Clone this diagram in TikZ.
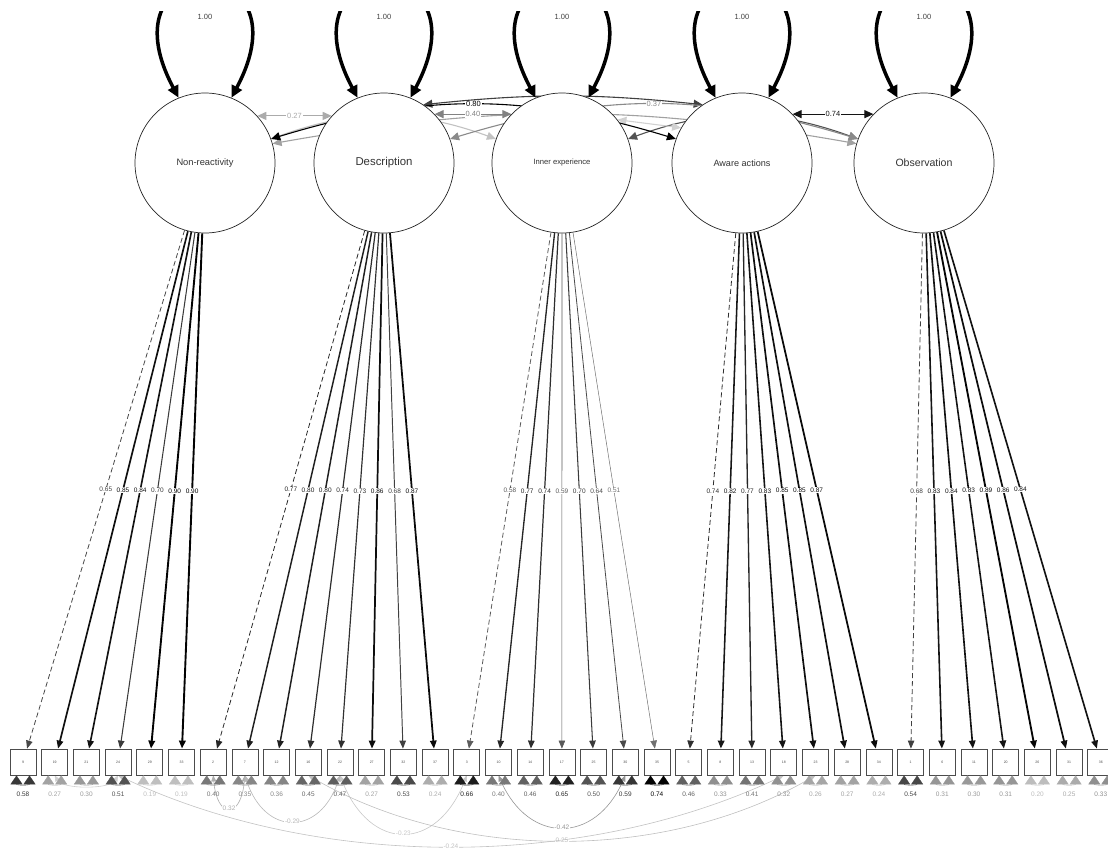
\documentclass[tikz,border=0pt]{standalone}
\usepackage{fontspec}
\setmainfont{Liberation Sans}
\usepackage{graphicx}
\usetikzlibrary{arrows.meta,backgrounds}

\tikzset{
	latent/.style={circle,draw=black!85,line width=.7pt,fill=white,minimum size=140pt,inner sep=0pt,text=black!80},
	manifest/.style={rectangle,draw=black!70,line width=.8pt,fill=white,minimum width=26pt,minimum height=26pt,inner sep=0pt,text=black!70,font=\fontsize{3.5}{4}\selectfont},
	greyed/.code={\pgfmathtruncatemacro\semshade{min(100,abs(#1))}\edef\semset{\noexpand\tikzset{draw=black!\semshade}}\semset},
	greytext/.code={\pgfmathtruncatemacro\semshade{min(100,abs(#1))}\edef\semset{\noexpand\tikzset{text=black!\semshade}}\semset},
	wide by/.code={\pgfmathsetmacro\semwidth{max(.5,(#1-.45)*4.2)}\edef\semset{\noexpand\tikzset{line width=\semwidth pt}}\semset},
	load/.style={wide by=#1,greyed=#1*111,-{Triangle[length=8pt,width=6.5pt]}},
	fixed/.style={line width=.8pt,dash pattern=on 5pt off 3pt},
	ldlbl/.style={fill=white,inner sep=.6pt,font=\fontsize{6.5}{7}\selectfont,greytext=#1*111},
	varloop/.style={line width=3.5pt,draw=black,{Triangle[length=12pt,width=11pt]}-{Triangle[length=12pt,width=11pt]}},
	cov/.style={line width=1.1pt,greyed=#1*125,{Triangle[length=9pt,width=8pt]}-{Triangle[length=9pt,width=8pt]}},
	cvlbl/.style={fill=white,inner sep=.8pt,font=\fontsize{7.5}{8}\selectfont,greytext=#1*125},
	resid/.style={line width=.4pt,greyed=#1*135,{Triangle[length=9pt,width=12pt]}-{Triangle[length=9pt,width=12pt]}},
	rlbl/.style={inner sep=.5pt,font=\fontsize{6.5}{7}\selectfont,greytext=#1*135},
	rcov/.style={line width=.6pt,greyed=#1*100,{Triangle[length=6pt,width=5pt]}-{Triangle[length=6pt,width=5pt]}},
	rclbl/.style={fill=white,inner sep=.6pt,font=\fontsize{6.5}{7}\selectfont,greytext=#1*100},
}

\begin{document}
\begin{tikzpicture}[x=1pt,y=1pt]
	\useasboundingbox (0,0) rectangle (1108,-851);
	\node[latent] (nr) at (205,-163) {\resizebox{57pt}{!}{Non-reactivity}};
	\node[latent] (d) at (384,-163) {\resizebox{57pt}{!}{Description}};
	\node[latent] (ie) at (562,-163) {\resizebox{57pt}{!}{Inner experience}};
	\node[latent] (aa) at (742,-163) {\resizebox{57pt}{!}{Aware actions}};
	\node[latent] (obs) at (924,-163) {\resizebox{57pt}{!}{Observation}};

	\begin{scope}
		\clip (0,-12) rectangle (1108,-300);
		\foreach \lat in {nr,d,ie,aa,obs}
			\draw[varloop] (\lat.112) .. controls +(-80,150) and +(80,150) .. (\lat.68);
	\end{scope}
	\foreach \lat in {nr,d,ie,aa,obs}
		\node[cvlbl=.6] (v\lat) at ([yshift=146.5pt]\lat.center) {1.00};

	\begin{pgfonlayer}{background}
		\draw[cov=.6] (d.56) to[bend left=6] (aa.124);
		\draw[cov=.2] (nr.20) to[bend left=20] (ie.160);
		\draw[cov=.55] (ie.20) to[bend left=20] (obs.160);
		\draw[cov=.3] (nr.16) to[bend left=10] (obs.164);
		\draw[cov=.15] (ie.38) -- (aa.150);
		\draw[cov=.27] (nr.42) -- node[cvlbl=.27] (c1) {0.27} (d.138);
		\draw[cov=.40] (d.44) -- node[cvlbl=.40] (c2) {0.40} (ie.136);
		\draw[cov=.74] (aa.44) -- node[cvlbl=.74] (c3) {0.74} (obs.136);
		\draw[cov=.80] (nr.20) to[bend left=17] node[cvlbl=.80] (c4) {0.80} (aa.160);
		\draw[cov=.37] (d.20) to[bend left=17] node[cvlbl=.37] (c5) {0.37} (obs.160);
	\end{pgfonlayer}

	\foreach \itm/\re [count=\k from 0] in {9/0.58,19/0.27,21/0.30,24/0.51,29/0.19,33/0.19,
			2/0.40,7/0.35,12/0.36,16/0.45,22/0.47,27/0.27,32/0.53,37/0.24,
			3/0.66,10/0.40,14/0.46,17/0.65,25/0.50,30/0.59,35/0.74,
			5/0.46,8/0.33,13/0.41,18/0.32,23/0.26,28/0.27,34/0.24,
			1/0.54,6/0.31,11/0.30,20/0.31,26/0.20,31/0.25,36/0.33}{
		\node[manifest] (i\itm) at ({23+31.7*\k},-762) {\itm};
		\draw[resid=\re] ([xshift=-6.5pt]i\itm.south) .. controls +(0,-10) and +(0,-10) .. ([xshift=6.5pt]i\itm.south);
		\node[rlbl=\re] (r\itm) at ([yshift=-19pt]i\itm.south) {\re};
	}

	\draw[load=.65,fixed] (nr) -- node[ldlbl=.65] (l9) {0.65} (i9);
	\foreach \itm/\ld in {19/0.85,21/0.84,24/0.70,29/0.90,33/0.90}
		\draw[load=\ld] (nr) -- node[ldlbl=\ld] (l\itm) {\ld} (i\itm);
	\draw[load=.77,fixed] (d) -- node[ldlbl=.77] (l2) {0.77} (i2);
	\foreach \itm/\ld in {7/0.80,12/0.80,16/0.74,22/0.73,27/0.86,32/0.68,37/0.87}
		\draw[load=\ld] (d) -- node[ldlbl=\ld] (l\itm) {\ld} (i\itm);
	\draw[load=.58,fixed] (ie) -- node[ldlbl=.58] (l3) {0.58} (i3);
	\foreach \itm/\ld in {10/0.77,14/0.74,17/0.59,25/0.70,30/0.64,35/0.51}
		\draw[load=\ld] (ie) -- node[ldlbl=\ld] (l\itm) {\ld} (i\itm);
	\draw[load=.74,fixed] (aa) -- node[ldlbl=.74] (l5) {0.74} (i5);
	\foreach \itm/\ld in {8/0.82,13/0.77,18/0.83,23/0.85,28/0.85,34/0.87}
		\draw[load=\ld] (aa) -- node[ldlbl=\ld] (l\itm) {\ld} (i\itm);
	\draw[load=.68,fixed] (obs) -- node[ldlbl=.68] (l1) {0.68} (i1);
	\foreach \itm/\ld in {6/0.83,11/0.84,20/0.83,26/0.89,31/0.86,36/0.84}
		\draw[load=\ld] (obs) -- node[ldlbl=\ld] (l\itm) {\ld} (i\itm);

	\begin{pgfonlayer}{background}
		\draw[rcov=.2] (i19.south) .. controls +(8,-14) and +(-8,-14) .. (i24.south);
		\draw[rcov=.32] (i2.south) .. controls +(4,-44) and +(-4,-44) .. node[rclbl=.32] (e1) {0.32} (i7.south);
		\draw[rcov=-.29] (i7.south) .. controls +(20,-61) and +(-20,-61) .. node[rclbl=-.29] (e2) {-0.29} (i22.south);
		\draw[rcov=-.23] (i22.south) .. controls +(30,-77) and +(-30,-77) .. node[rclbl=-.23] (e3) {-0.23} (i3.south);
		\draw[rcov=-.42] (i10.south) .. controls +(30,-69) and +(-30,-69) .. node[rclbl=-.42] (e4) {-0.42} (i30.south);
		\draw[rcov=.25] (i16.south) .. controls +(150,-87) and +(-150,-87) .. node[rclbl=.25] (e5) {0.25} (i23.south);
		\draw[rcov=-.24] (i24.south) .. controls +(200,-95) and +(-200,-95) .. node[rclbl=-.24] (e6) {-0.24} (i18.south);
	\end{pgfonlayer}
\end{tikzpicture}
\end{document}
